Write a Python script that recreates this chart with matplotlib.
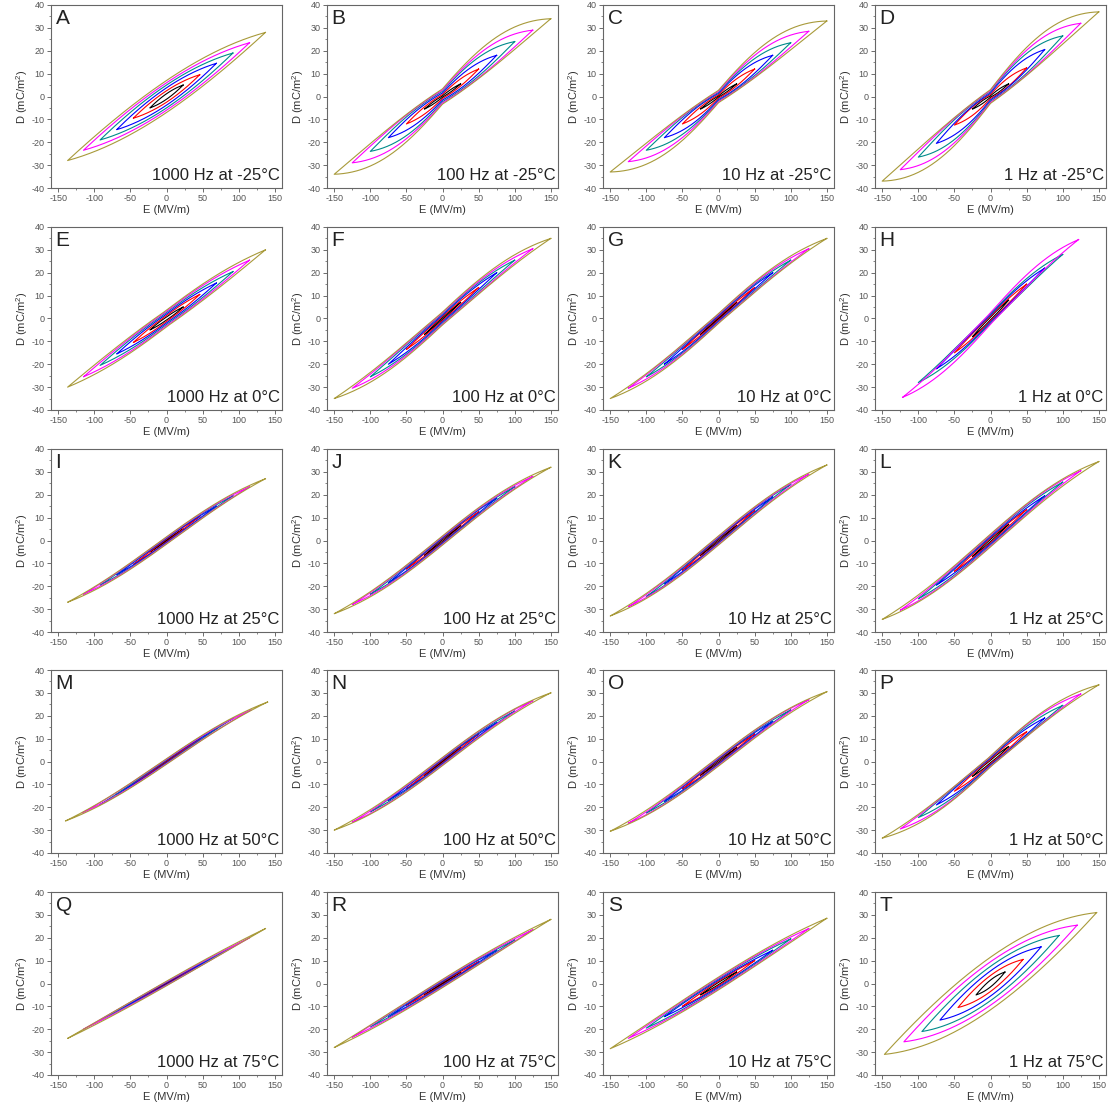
import numpy as np
import matplotlib.pyplot as plt
from matplotlib.ticker import MultipleLocator

plt.rcParams['font.family'] = ['Liberation Sans', 'DejaVu Sans']
plt.rcParams['mathtext.default'] = 'regular'
plt.rcParams['axes.unicode_minus'] = False

# 每个子图的字母和标注
letters = list('ABCDEFGHIJKLMNOPQRST')
labels = ['1000 Hz at -25°C', '100 Hz at -25°C', '10 Hz at -25°C', '1 Hz at -25°C',
          '1000 Hz at 0°C', '100 Hz at 0°C', '10 Hz at 0°C', '1 Hz at 0°C',
          '1000 Hz at 25°C', '100 Hz at 25°C', '10 Hz at 25°C', '1 Hz at 25°C',
          '1000 Hz at 50°C', '100 Hz at 50°C', '10 Hz at 50°C', '1 Hz at 50°C',
          '1000 Hz at 75°C', '100 Hz at 75°C', '10 Hz at 75°C', '1 Hz at 75°C']

E137 = [23, 46, 69, 92, 115, 137]
E150 = [25, 50, 75, 100, 125, 150]

# 各回线顶点电场 (MV/m)，从内到外
e_tips = [E137, E150, E150, E150,
          E137, E150, E150, [25, 50, 75, 100, 122],
          E137, E150, E150, E150,
          [23, 47, 70, 93, 117, 140], E150, E150, E150,
          E137, E150, E150, [20, 45, 70, 95, 120, 147]]

# 各回线顶点电位移 (mC/m^2)
d_tips = [[5, 9.5, 14.5, 19, 23.5, 28], [5.5, 12, 18, 24, 29, 34],
          [5.5, 12, 18, 23.5, 28.5, 33], [5.5, 12.5, 20.5, 26.5, 32, 37],
          [5, 10.5, 15.5, 20.5, 25.5, 30], [7, 13.5, 20, 25.5, 30.5, 35],
          [7, 13.5, 20, 25.5, 30.5, 35], [8, 15, 22, 28, 34.5],
          [5, 10.5, 15, 19.5, 23.5, 27], [6.5, 12.5, 18.5, 23.5, 28, 32],
          [6.5, 13, 19, 24.5, 29, 33], [7, 13.5, 19.5, 25.5, 30.5, 34.5],
          [5, 10, 14.5, 19, 22.5, 26], [6, 12, 17, 22, 26.5, 30],
          [6, 12, 17.5, 22.5, 27, 30.5], [6.5, 13, 19, 24.5, 29.5, 33.5],
          [4, 8, 12, 16, 20, 24], [5, 9.5, 14.5, 19, 23.5, 28],
          [5, 10, 14.5, 19.5, 24, 28.5], [5, 10.5, 16, 21, 25.5, 31]]

# 回线半开口 (mC/m^2)
openings = [[1.2, 2.5, 3.8, 5, 6, 7], [0.8, 2.5, 4.5, 6.5, 8, 9.5],
            [0.8, 2.5, 4.5, 6, 7.5, 9], [1, 3, 5, 7, 8.5, 10],
            [0.8, 1.6, 2.4, 3.2, 3.9, 4.5], [0.5, 1.2, 2, 2.8, 3.4, 4],
            [0.4, 0.9, 1.5, 2.1, 2.6, 3], [0.8, 1.5, 2.2, 2.9, 3.5],
            [0.3, 0.6, 0.9, 1.2, 1.4, 1.6], [0.4, 0.8, 1.1, 1.4, 1.7, 2],
            [0.4, 0.8, 1.1, 1.4, 1.7, 2], [0.5, 1, 1.5, 2, 2.4, 2.8],
            [0.2, 0.4, 0.6, 0.8, 1, 1.2], [0.3, 0.6, 0.9, 1.2, 1.5, 1.8],
            [0.4, 0.8, 1.1, 1.4, 1.7, 2], [0.8, 1.6, 2.4, 3, 3.5, 3.8],
            [0.2, 0.4, 0.5, 0.7, 0.8, 1], [0.3, 0.6, 0.9, 1.2, 1.5, 1.8],
            [0.5, 1, 1.5, 2, 2.4, 2.8], [1.5, 3.5, 5.5, 7.5, 9.5, 11.5]]

# 饱和程度 / 束腰程度
saturation = [0.35, 0.9, 0.95, 0.95, 0.4, 0.8, 0.8, 0.8, 0.7, 0.8,
              0.8, 0.8, 0.7, 0.8, 0.8, 0.9, 0.3, 0.4, 0.4, 0.4]
pinch = [0.0, 0.65, 0.7, 0.7, 0.2, 0.3, 0.3, 0.3, 0.0, 0.0,
         0.0, 0.0, 0.0, 0.0, 0.0, 0.4, 0.0, 0.0, 0.0, 0.0]

loop_colors = ['black', 'red', 'blue', '#008b8b', 'magenta', '#a89a3a']

COL_LEFT = [51, 327, 603, 875]
ROW_TOP = [5, 227, 449, 670, 892]
AX_W, AX_H = 231, 183
FIG_W, FIG_H = 1110, 1114


def loop_xy(e_tip, d_tip, w, sat, pin, n=240):
    x = np.linspace(-1, 1, n)
    g = np.tanh(sat * x) / np.tanh(sat) if sat > 1e-3 else x
    h = w * (1 - x ** 2) * (1 - pin * (1 - np.abs(x)) ** 2)
    up = d_tip * g + h
    lo = d_tip * g - h
    E = np.concatenate([e_tip * x[::-1], e_tip * x])
    D = np.concatenate([up[::-1], lo])
    return E, D


fig = plt.figure(figsize=(FIG_W / 100, FIG_H / 100), dpi=100)

for k in range(20):
    r, c = divmod(k, 4)
    ax = fig.add_axes([COL_LEFT[c] / FIG_W, 1 - (ROW_TOP[r] + AX_H) / FIG_H,
                       AX_W / FIG_W, AX_H / FIG_H])
    n_loops = len(e_tips[k])
    e_out = e_tips[k][-1]
    for i in range(n_loops):
        sat_i = saturation[k] * e_tips[k][i] / e_out
        E, D = loop_xy(e_tips[k][i], d_tips[k][i], openings[k][i], sat_i, pinch[k])
        ax.plot(E, D, color=loop_colors[i], lw=0.8)

    ax.set_xlim(-160, 160)
    ax.set_ylim(-40, 40)
    ax.xaxis.set_major_locator(MultipleLocator(50))
    ax.xaxis.set_minor_locator(MultipleLocator(25))
    ax.yaxis.set_major_locator(MultipleLocator(10))
    ax.yaxis.set_minor_locator(MultipleLocator(5))
    ax.tick_params(which='major', direction='out', length=3, width=0.6,
                   labelsize=6.5, labelcolor='#555555', color='#555555', pad=1.5)
    ax.tick_params(which='minor', direction='out', length=1.5, width=0.5, color='#555555')
    for sp in ax.spines.values():
        sp.set_color('#666666')
        sp.set_linewidth(0.8)
    ax.set_xlabel('E (MV/m)', fontsize=8, color='#333333', labelpad=1)
    ax.set_ylabel('D (mC/m$^{2}$)', fontsize=8, color='#333333', labelpad=1)

    ax.text(0.02, 0.98, letters[k], transform=ax.transAxes, fontsize=15,
            ha='left', va='top', color='#222222')
    ax.text(0.99, 0.03, labels[k], transform=ax.transAxes, fontsize=12,
            ha='right', va='bottom', color='#222222')

plt.savefig('out.png', dpi=100, facecolor='white')
plt.close()
